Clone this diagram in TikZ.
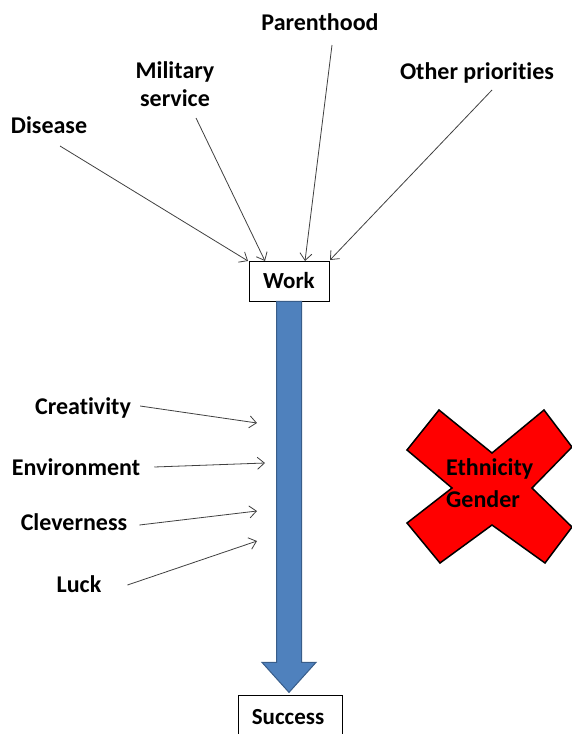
\documentclass[tikz,border=0pt]{standalone}
\usepackage{fontspec}
\setmainfont{Carlito}[RawFeature={-liga}]
\usetikzlibrary{arrows.meta}
\definecolor{linegray}{HTML}{404040}
\definecolor{flowblue}{HTML}{4F81BD}
\definecolor{flowedge}{HTML}{385D8A}
\begin{document}
\begin{tikzpicture}[x=1pt,y=-1pt,
  lbl/.style={font=\fontsize{24}{28}\selectfont\bfseries, inner sep=0pt, anchor=base},
  conn/.style={draw=linegray, line width=0.8pt, -{Straight Barb[length=7pt,width=12pt]}},
  boxnode/.style={draw=black, line width=0.8pt, fill=white, font=\fontsize{23}{27}\selectfont\bfseries, inner sep=0pt}]
\useasboundingbox (0,0) rectangle (572,734);

% top influences
\node[lbl] (parent) at (320,30) {Parenthood};
\node[lbl, align=center, anchor=center] (military) at (175,84) {Military\\service};
\node[lbl] (disease) at (49,133) {Disease};
\node[lbl] (other) at (477,79) {Other priorities};

% work and success boxes
\node[boxnode, minimum width=80pt, minimum height=40pt] (work) at (289,281) {Work};
\node[boxnode, minimum width=104pt, minimum height=46pt, anchor=north] (success) at (290,695) {};
\node[font=\fontsize{23}{27}\selectfont\bfseries, inner sep=0pt, anchor=base] (successtxt) at (288,724) {Success};

% arrow heads on the top edge of the work box
\coordinate (dw) at (248,261);
\coordinate (mw) at (265,261);
\coordinate (pw) at (305,261);
\coordinate (ow) at (330,260);

\draw[conn] ([shift={(11,13)}]disease.base) -- (dw);
\draw[conn] ([shift={(21,34)}]military.center) -- (mw);
\draw[conn] ([shift={(12,15)}]parent.base) -- (pw);
\draw[conn] ([shift={(15,11)}]other.base) -- (ow);

% big blue arrow from work to success
\path (work.south) coordinate (ws);
\filldraw[fill=flowblue, draw=flowedge, line width=1pt]
  ([xshift=-12.5pt]ws) -- ([xshift=12.5pt]ws) -- ([shift={(12.5,361)}]ws)
  -- ([shift={(27,361)}]ws) -- ([shift={(0,391)}]ws) -- ([shift={(-27,361)}]ws)
  -- ([shift={(-12.5,361)}]ws) -- cycle;

% side factors
\node[lbl] (creat) at (83,414) {Creativity};
\node[lbl] (envir) at (76,475) {Environment};
\node[lbl] (clever) at (74,530) {Cleverness};
\node[lbl] (luck) at (79,592) {Luck};

\coordinate (ca) at (257,423);
\coordinate (ea) at (265,463);
\coordinate (cla) at (257,511);
\coordinate (la) at (257,541);

\draw[conn] ([shift={(9,-8)}]creat.base east) -- (ca);
\draw[conn] ([shift={(14,-8)}]envir.base east) -- (ea);
\draw[conn] ([shift={(12,-5)}]clever.base east) -- (cla);
\draw[conn] ([shift={(26,-7)}]luck.base east) -- (la);

% excluded factors crossed out
\filldraw[fill=red, draw=black, line width=1.5pt]
  (439,410) -- (492,453) -- (544,410) -- (572,447) -- (532,488) -- (572,527)
  -- (545,563) -- (492,525) -- (440,563) -- (407,523) -- (452,488) -- (407,450) -- cycle;
\node[lbl, anchor=base west] (eth) at (446,475) {Ethnicity};
\node[lbl, anchor=base west] (gen) at (446,507) {Gender};
\end{tikzpicture}
\end{document}
